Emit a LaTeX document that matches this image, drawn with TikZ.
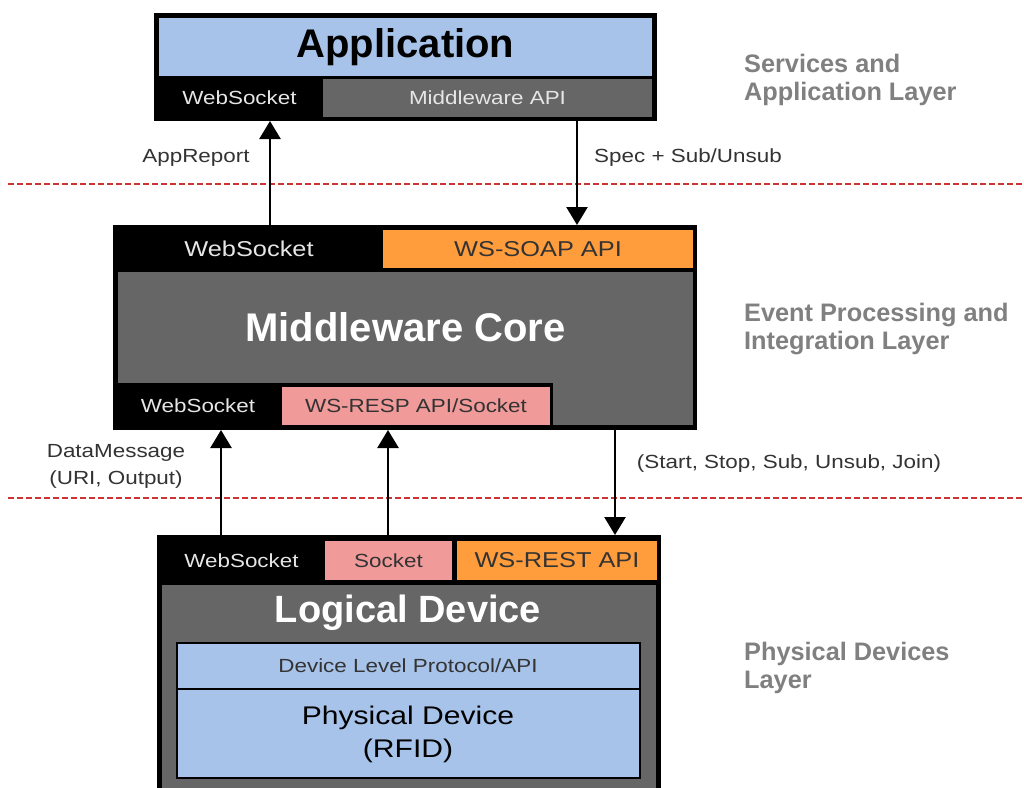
\documentclass[tikz,border=0pt]{standalone}
\usepackage{fontspec}
\setmainfont{Liberation Sans}
\newfontfamily\widefont{Liberation Sans}[FakeStretch=1.18]
\usetikzlibrary{arrows.meta,fit}

\definecolor{appblue}{HTML}{A7C3EA}
\definecolor{coregray}{HTML}{666666}
\definecolor{apiorange}{HTML}{FF9C3C}
\definecolor{apipink}{HTML}{F09A99}
\definecolor{layergray}{HTML}{808080}
\definecolor{sepred}{HTML}{CC3333}
\definecolor{socktext}{HTML}{E6E6E6}
\definecolor{labeltext}{HTML}{333333}

\begin{document}
\begin{tikzpicture}[x=1pt,y=-1pt,
  cell/.style={rectangle,inner sep=0pt,outer sep=0pt,draw=none},
  txt/.style={inner sep=0pt,outer sep=0pt},
  regtext/.style={txt,font=\widefont\fontsize{19}{23}\selectfont},
  bigtext/.style={txt,font=\widefont\fontsize{21.5}{26}\selectfont},
  title/.style={txt,font=\bfseries\fontsize{40}{46}\selectfont},
  socktxt/.style={regtext,text=socktext},
  apitxt/.style={text=labeltext},
  flow/.style={line width=2.5pt,-{Triangle[width=21pt,length=18pt]}},
  sep/.style={draw=sepred,line width=1.6pt,dash pattern=on 6pt off 3pt},
  layer/.style={anchor=west,align=left,text=layergray,inner sep=0pt,
    font=\bfseries\fontsize{25.3}{28}\selectfont},
  edgelabel/.style={text=labeltext,regtext,align=center}]

\clip (0,0) rectangle (1024,787);
\fill[white] (0,0) rectangle (1024,787);

% layer separators
\draw[sep] (8,184) -- (1024,184);
\draw[sep] (8,498) -- (1024,498);

% ---------- Application ----------
\node[cell,fill=black,fit={(154,13) (657,121)}] (app) {};
\node[cell,fill=appblue,fit={(159,18) (652,76)}] (apptitle) {};
\node[cell,fill=black,fit={(159,79) (320,117)}] (appws) {};
\node[cell,fill=coregray,fit={(323,79) (652,117)}] (appapi) {};
\node[title,text=black] at (apptitle) {Application};
\node[socktxt] at (appws) {WebSocket};
\node[regtext,text=socktext] at (appapi) {Middleware API};

% ---------- Middleware ----------
\node[cell,fill=black,fit={(113,225) (697,430)}] (mw) {};
\node[cell,fill=black,fit={(118,230) (380,268)}] (mwws) {};
\node[cell,fill=apiorange,fit={(383,230) (693,268)}] (mwsoap) {};
\node[cell,fill=coregray,fit={(118,272) (693,383)}] (mwcore) {};
\node[cell,fill=coregray,fit={(553,382) (693,425)}] (mwcorext) {};
\node[cell,fill=black,fit={(118,387) (278,425)}] (mwws2) {};
\node[cell,fill=apipink,fit={(282,387) (550,425)}] (mwresp) {};
\node[bigtext,text=socktext] at (mwws) {WebSocket};
\node[bigtext,apitxt] at (mwsoap) {WS-SOAP API};
\node[title,text=white] at (mwcore) {Middleware Core};
\node[socktxt] at (mwws2) {WebSocket};
\node[regtext,apitxt] at (mwresp) {WS-RESP API/Socket};

% ---------- Logical device ----------
\node[cell,fill=black,fit={(157,535) (661,800)}] (ld) {};
\node[cell,fill=black,fit={(162,541) (321,580)}] (ldws) {};
\node[cell,fill=apipink,fit={(325,541) (452,580)}] (ldsock) {};
\node[cell,fill=apiorange,fit={(457,541) (657,580)}] (ldrest) {};
\node[cell,fill=coregray,fit={(162,585) (656,800)}] (ldbody) {};
\node[socktxt] at (ldws) {WebSocket};
\node[regtext,apitxt] at (ldsock) {Socket};
\node[bigtext,apitxt] at (ldrest) {WS-REST API};
\node[txt,font=\bfseries\fontsize{38}{44}\selectfont,text=white] (ldtitle) at (408,613) {Logical Device};
\node[cell,fill=appblue,draw=black,line width=2pt,fit={(177,643) (640,778)}] (phys) {};
\coordinate (physsep) at (0,689);
\draw[line width=2pt] (phys.west |- physsep) -- (phys.east |- physsep);
\node[regtext,apitxt] (proto) at (408,666) {Device Level Protocol/API};
\node[txt,font=\widefont\fontsize{25.5}{33}\selectfont,text=black,align=center] (physdev) at (408,734) {Physical Device\\(RFID)};

% ---------- connectors ----------
\coordinate (xa) at (270,0);
\coordinate (xb) at (577,0);
\coordinate (xc) at (221,0);
\coordinate (xd) at (388,0);
\coordinate (xe) at (615,0);
\draw[flow] (mw.north -| xa) -- (app.south -| xa);
\draw[flow] (app.south -| xb) -- (mw.north -| xb);
\draw[flow] (ld.north -| xc) -- (mw.south -| xc);
\draw[flow] (ld.north -| xd) -- (mw.south -| xd);
\draw[flow] (mw.south -| xe) -- (ld.north -| xe);

% connector labels
\node[edgelabel] (lbappreport) at (196,158) {AppReport};
\node[edgelabel] (lbspec) at (688,158) {Spec + Sub/Unsub};
\node[edgelabel,font=\widefont\fontsize{19}{27}\selectfont] (lbdata) at (116,466) {DataMessage\\(URI, Output)};
\node[edgelabel] (lbctrl) at (789,464) {(Start, Stop, Sub, Unsub, Join)};

% layer names
\node[layer] (layapp) at (744,80) {Services and\\Application Layer};
\node[layer] (layevt) at (744,329) {Event Processing and\\Integration Layer};
\node[layer] (layphy) at (744,668) {Physical Devices\\Layer};

\end{tikzpicture}
\end{document}
